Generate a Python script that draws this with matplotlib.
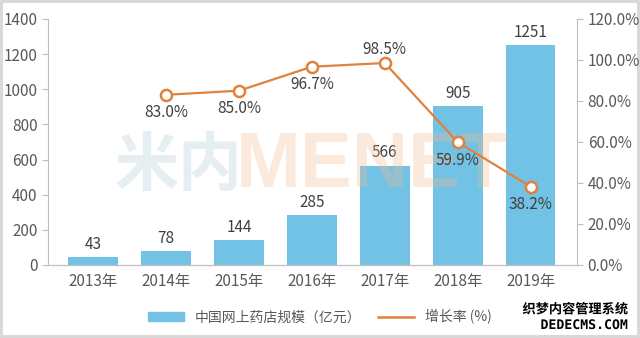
import matplotlib
matplotlib.use("Agg")
import matplotlib.pyplot as plt
import matplotlib.patheffects as pe
from matplotlib.patches import Patch
from matplotlib.lines import Line2D
from matplotlib.ticker import PercentFormatter

plt.rcParams['font.family'] = ['Noto Sans CJK SC', 'DejaVu Sans']

# data
years = ["2013年", "2014年", "2015年", "2016年", "2017年", "2018年", "2019年"]
market_size = [43, 78, 144, 285, 566, 905, 1251]  # 亿元
growth_years = [1, 2, 3, 4, 5, 6]
growth_rate = [83.0, 85.0, 96.7, 98.5, 59.9, 38.2]  # %
growth_label_above = [False, False, False, True, False, False]

bar_color = "#72C2E5"
line_color = "#E0813D"
text_color = "#404040"
spine_color = "#BFBFBF"

fig = plt.figure(figsize=(6.4, 3.38), dpi=100)
fig.patch.set_edgecolor("#D9D9D9")
fig.patch.set_linewidth(3)
ax = fig.add_axes([0.075, 0.216, 0.827, 0.728])
ax2 = ax.twinx()

x = range(len(years))
ax.bar(x, market_size, width=0.68, color=bar_color, zorder=2)
for xi, v in zip(x, market_size):
    ax.annotate(str(v), (xi, v), xytext=(0, 3), textcoords="offset points",
                ha="center", va="bottom", fontsize=11, color=text_color)

ax.set_xlim(-0.62, 6.64)
ax.set_ylim(0, 1400)
ax.set_yticks(range(0, 1401, 200))
ax.set_xticks(list(x))
ax.set_xticklabels(years)

ax2.plot(growth_years, growth_rate, color=line_color, lw=1.6, marker="o",
         markersize=8, markerfacecolor="white", markeredgecolor=line_color,
         markeredgewidth=1.8, zorder=5)
for xi, v, above in zip(growth_years, growth_rate, growth_label_above):
    dy = 10 if above else -13
    ax2.annotate("%.1f%%" % v, (xi, v), xytext=(0, dy), textcoords="offset points",
                 ha="center", va="center", fontsize=11, color=text_color)
ax2.set_ylim(0, 120)
ax2.set_yticks(range(0, 121, 20))
ax2.yaxis.set_major_formatter(PercentFormatter(decimals=1))

for a in (ax, ax2):
    a.spines["top"].set_visible(False)
    for s in ("left", "right", "bottom"):
        a.spines[s].set_color(spine_color)
    a.tick_params(colors=spine_color, labelcolor="#595959", labelsize=11, length=4)
ax.spines["right"].set_visible(False)
ax2.spines["left"].set_visible(False)
ax.tick_params(axis="x", length=0, pad=6)

# watermark in the middle
ax.text(0.125, 0.40, "米内", transform=ax.transAxes, fontsize=46, fontweight="black",
        color="#A9C8CF", alpha=0.3, ha="left", va="center", zorder=3)
ax.text(0.355, 0.40, "MENET", transform=ax.transAxes, fontsize=56, fontweight="bold",
        color="#F5B98C", alpha=0.3, ha="left", va="center", zorder=3,
        family="Liberation Sans")

handles = [Patch(color=bar_color, label="中国网上药店规模（亿元）"),
           Line2D([], [], color=line_color, lw=1.8, label="增长率 (%)")]
fig.legend(handles=handles, loc="center", bbox_to_anchor=(0.5, 0.062), ncol=2,
           frameon=False, fontsize=10, handlelength=2.6, handleheight=0.6,
           columnspacing=1.2, labelcolor="#595959")

# corner stamp
stroke = [pe.withStroke(linewidth=2, foreground="white")]
fig.text(0.982, 0.085, "织梦内容管理系统", ha="right", va="center", fontsize=9.5,
         fontweight="bold", color="black", path_effects=stroke)
fig.text(0.982, 0.037, "DEDECMS.COM", ha="right", va="center", fontsize=9.5,
         fontweight="bold", color="black", path_effects=stroke, family="DejaVu Sans Mono")

fig.savefig("out.png", dpi=100)
